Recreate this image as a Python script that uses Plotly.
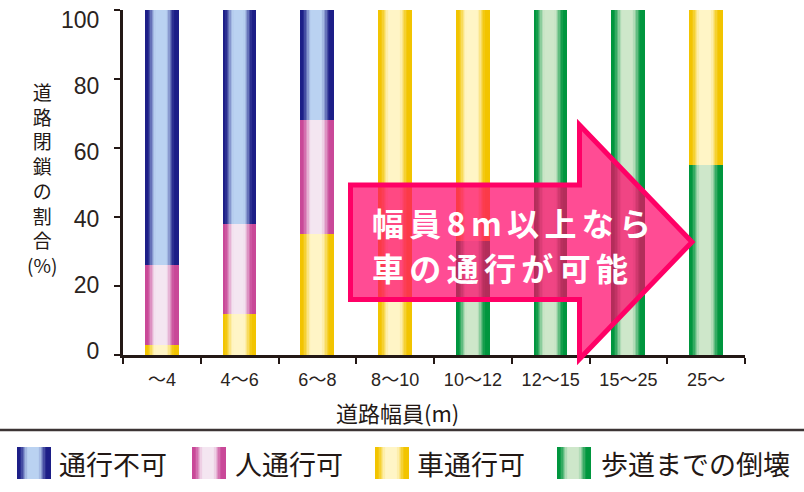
import plotly.graph_objects as go

# ---------------- data ----------------
categories = ["～4", "4～6", "6～8", "8～10", "10～12", "12～15", "15～25", "25～"]
# stacked bottom -> top
green_vals = [0, 0, 0, 0, 33, 100, 100, 55]      # 歩道までの倒壊
yellow_vals = [3, 12, 35, 100, 67, 0, 0, 45]     # 車通行可
pink_vals = [23, 26, 33, 0, 0, 0, 0, 0]          # 人通行可
blue_vals = [74, 62, 32, 0, 0, 0, 0, 0]          # 通行不可
series_names = ["通行不可", "人通行可", "車通行可", "歩道までの倒壊"]
y_ticks = [0, 20, 40, 60, 80, 100]

# ---------------- style ----------------
W_PX, H_PX = 804, 492
def PX(x): return x / W_PX
def PY(y): return 1 - y / H_PX

styles = {
    "通行不可": ((28, 30, 135), (186, 210, 241)),
    "人通行可": ((201, 72, 152), (244, 230, 241)),
    "車通行可": ((242, 196, 0), (255, 245, 198)),
    "歩道までの倒壊": ((0, 150, 62), (206, 231, 202)),
}
N = 24
BAR_W = 0.425
INK = "#231815"
SP = "\u2006"

def smooth(a, b, t):
    t = min(1, max(0, (t - a) / (b - a)))
    return t * t * (3 - 2 * t)

def slice_color(name, i):
    edge, center = styles[name]
    u = (i + 0.5) / N
    e = 0.5 - abs(u - 0.48)
    w = smooth(0.07, 0.36, e)
    c = [round(edge[k] + (center[k] - edge[k]) * w) for k in range(3)]
    return f"rgb({c[0]},{c[1]},{c[2]})"

fig = go.Figure()

stack = [("歩道までの倒壊", green_vals), ("車通行可", yellow_vals),
         ("人通行可", pink_vals), ("通行不可", blue_vals)]
base = [0] * len(categories)
step = BAR_W / N
for name, vals in stack:
    xs, ys, bs, offs, ws, cols = [], [], [], [], [], []
    for j, cat in enumerate(categories):
        if vals[j] > 0:
            for i in range(N):
                xs.append(cat); ys.append(vals[j]); bs.append(base[j])
                offs.append(-BAR_W / 2 + i * step)
                ws.append(step * 1.4 if i < N - 1 else step)
                cols.append(slice_color(name, i))
        base[j] += vals[j]
    fig.add_trace(go.Bar(x=xs, y=ys, base=bs, offset=offs, width=ws, name=name,
                         marker=dict(color=cols, line=dict(width=0)),
                         hoverinfo="skip", showlegend=False,
                         xaxis="x", yaxis="y"))

# empty helper trace so the tick-label axis is built
fig.add_trace(go.Scatter(x=[], y=[], xaxis="x", yaxis="y6", hoverinfo="skip",
                         showlegend=False))

# custom gradient legend (boxes) on a hidden helper axis
legend_left = [18, 193, 376, 558]
legend_text_x = [57, 233, 415, 599]
BOX = 33
for k, name in enumerate(series_names):
    lstep = BOX / N
    xs = [legend_left[k] + (i + 0.5) * lstep for i in range(N)]
    fig.add_trace(go.Bar(x=xs, y=[1] * N, base=[0] * N,
                         width=[lstep * 1.4 if i < N - 1 else lstep for i in range(N)],
                         marker=dict(color=[slice_color(name, i) for i in range(N)],
                                     line=dict(width=0)),
                         hoverinfo="skip", showlegend=False,
                         xaxis="x5", yaxis="y5"))

x_dom = [PX(123), PX(745)]
y_dom = [PY(355), PY(10)]
axis_common = dict(showgrid=False, zeroline=False, automargin=False)

# label axis: in the original print the tick labels sit on a slightly tighter scale
# (0 label at y=351 px, 100 label at y=20 px) than the ticks themselves
lab_ppu = (351 - 20) / 100
lab_range = [0 - (355 - 351) / lab_ppu, 100 + (20 - 10) / lab_ppu]

fig.update_layout(
    width=W_PX, height=H_PX,
    margin=dict(l=0, r=0, t=0, b=0, autoexpand=False),
    paper_bgcolor="white", plot_bgcolor="rgba(0,0,0,0)",
    barmode="overlay", bargap=0, showlegend=False,
    xaxis=dict(domain=x_dom, type="category", categoryorder="array",
               categoryarray=categories, range=[-0.5, 7.5],
               showline=True, linecolor=INK, linewidth=3,
               ticks="outside", ticklen=6, tickwidth=2, tickcolor=INK,
               tickson="boundaries", ticklabelstandoff=6,
               tickfont=dict(family="Liberation Sans, Noto Sans CJK JP", size=18, color="#2a2320"),
               anchor="y", **axis_common),
    yaxis=dict(domain=y_dom, range=[0, 100], tickvals=y_ticks,
               showline=True, linecolor=INK, linewidth=3,
               ticks="outside", ticklen=6, tickwidth=2, tickcolor=INK,
               showticklabels=False,
               anchor="x", **axis_common),
    yaxis6=dict(domain=y_dom, overlaying="y", anchor="x", side="left", range=lab_range,
                tickvals=y_ticks, ticks="outside", ticklen=6, tickwidth=1,
                tickcolor="rgba(0,0,0,0)", showline=False, showticklabels=True,
                ticklabelstandoff=12, ticklabeloverflow="allow",
                tickfont=dict(family="Liberation Sans", size=23, color="#2a2320"),
                **axis_common),
    xaxis2=dict(domain=x_dom, overlaying="x", anchor="y", range=[-0.5, 7.5],
                tickvals=[v - 0.5 for v in range(9)], ticks="inside", ticklen=6,
                tickwidth=2, tickcolor=INK, showticklabels=False, showline=False,
                **axis_common),
    xaxis3=dict(domain=x_dom, overlaying="x", anchor="y", range=[-0.5, 7.5],
                tickvals=[-0.5, 7.5], ticks="outside", ticklen=11,
                tickwidth=2, tickcolor=INK, showticklabels=False, showline=False,
                **axis_common),
    yaxis2=dict(domain=y_dom, overlaying="y", anchor="x", range=[0, 100],
                tickvals=y_ticks, ticks="inside", ticklen=6, tickwidth=2,
                tickcolor=INK, showticklabels=False, showline=False, **axis_common),
    yaxis3=dict(domain=y_dom, overlaying="y", anchor="x", range=[0, 100],
                tickvals=[0, 100], ticks="outside", ticklen=11, tickwidth=2,
                tickcolor=INK, showticklabels=False, showline=False, **axis_common),
    yaxis4=dict(domain=y_dom, overlaying="y", anchor="x", range=[0, 100],
                tickvals=[100], ticks="inside", ticklen=12, tickwidth=2,
                tickcolor=INK, showticklabels=False, showline=False, **axis_common),
    xaxis5=dict(domain=[0, 1], range=[0, W_PX], anchor="y5", visible=False, automargin=False),
    yaxis5=dict(domain=[PY(479), PY(447)], range=[0, 1], anchor="x5", visible=False, automargin=False),
)

annotations = []
# vertical y-axis title
annotations.append(dict(x=PX(42), y=PY(178), xref="paper", yref="paper",
                        text="道<br>路<br>閉<br>鎖<br>の<br>割<br>合<br>(%)",
                        showarrow=False, xanchor="center", yanchor="middle", align="center",
                        font=dict(family="Noto Sans CJK JP", size=19, color=INK)))
# x-axis title
annotations.append(dict(x=PX(397), y=PY(412), xref="paper", yref="paper",
                        text="道路幅員(m)", showarrow=False, xanchor="center", yanchor="middle",
                        font=dict(family="Noto Sans CJK JP", size=22, color=INK)))
# legend texts
for name, tx in zip(series_names, legend_text_x):
    annotations.append(dict(x=PX(tx), y=PY(463), xref="paper", yref="paper",
                            text=name, showarrow=False, xanchor="left", yanchor="middle",
                            font=dict(family="Noto Sans CJK JP", size=27, color=INK)))
# arrow text
for txt, yy in [("幅員8m以上なら", 221.5), ("車の通行が可能", 267)]:
    annotations.append(dict(x=PX(370), y=PY(yy), xref="paper", yref="paper",
                            text=SP.join(txt), showarrow=False, xanchor="left", yanchor="middle",
                            font=dict(family="Noto Sans CJK JP", size=32, color="white",
                                      weight="bold")))
fig.update_layout(annotations=annotations)

# arrow shape
pts = [(350.5, 185), (579.5, 185), (579.5, 125), (692, 242),
       (579.5, 359), (579.5, 299.5), (350.5, 299.5)]
path = "M " + " L ".join(f"{PX(x):.5f},{PY(y):.5f}" for x, y in pts) + " Z"
fig.add_shape(type="path", path=path, xref="paper", yref="paper",
              fillcolor="rgba(255,0,102,0.7)", line=dict(color="#ff0066", width=5),
              layer="above")
# separator line
fig.add_shape(type="line", x0=0, x1=1, y0=PY(430), y1=PY(430), xref="paper", yref="paper",
              line=dict(color="#3c3434", width=2.5))

fig.write_html("out.html", config={"displayModeBar": False},
               post_script="document.body.style.margin='0';document.body.style.padding='0';")
